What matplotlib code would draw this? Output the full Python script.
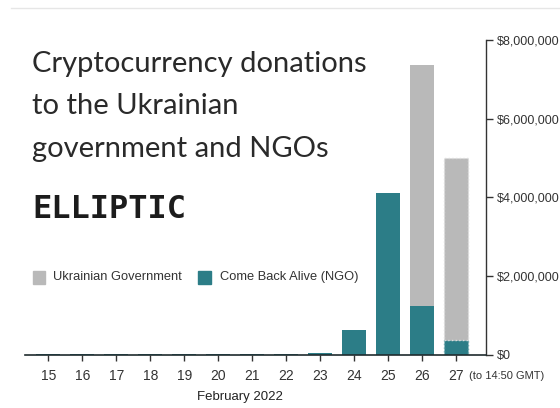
import numpy as np
import matplotlib.pyplot as plt
from matplotlib.patches import Rectangle

# 每日捐款（美元）
days = [15, 16, 17, 18, 19, 20, 21, 22, 23, 24, 25, 26, 27]
ngo = [20000, 20000, 20000, 20000, 20000, 20000, 20000, 20000, 50000, 630000, 4110000, 1240000, 380000]
gov = [0, 0, 0, 0, 0, 0, 0, 0, 0, 0, 0, 6120000, 4620000]
yticks = [0, 2000000, 4000000, 6000000, 8000000]
ytick_labels = ['$0', '$2,000,000', '$4,000,000', '$6,000,000', '$8,000,000']
title_lines = ['Cryptocurrency donations', 'to the Ukrainian', 'government and NGOs']

grey = '#b9b9b9'
teal = '#2c7d87'

plt.rcParams['font.family'] = ['Liberation Sans', 'DejaVu Sans']

fig = plt.figure(figsize=(5.6, 4.08), dpi=100)
ax = fig.add_axes([0.045, 0.13, 0.823, 0.772])

x = np.array(days)
last = len(days) - 1
for i in range(len(days)):
    ls = ':' if i == last else '-'
    ax.bar(x[i], ngo[i], width=0.7, color=teal,
           edgecolor='#6aa7ad' if i == last else 'none', linestyle=ls, linewidth=1)
    if gov[i] > 0:
        ax.bar(x[i], gov[i], bottom=ngo[i], width=0.7, color=grey,
               edgecolor='#dcdcdc' if i == last else 'none', linestyle=ls, linewidth=1)

ax.set_xlim(14.32, 27.88)
ax.set_ylim(0, 8000000)

for s in ['top', 'left']:
    ax.spines[s].set_visible(False)
ax.spines['bottom'].set_color('#1f2b2e')
ax.spines['bottom'].set_linewidth(1.2)
ax.spines['right'].set_color('#333333')
ax.spines['right'].set_linewidth(1.0)

ax.yaxis.tick_right()
ax.set_yticks(yticks)
ax.set_yticklabels(ytick_labels)
ax.tick_params(axis='y', direction='out', length=5, width=1, colors='#333333',
               labelsize=9, pad=3)
ax.set_xticks(days)
ax.set_xticklabels([str(d) for d in days])
ax.tick_params(axis='x', direction='out', length=4, width=1, colors='#333333',
               labelsize=10, pad=6)
ax.set_xlabel('February 2022', fontsize=9.5, color='#222222')
ax.xaxis.set_label_coords(0.466, -0.115)
ax.text(27.38, -0.052, '(to 14:50 GMT)', transform=ax.get_xaxis_transform(),
        fontsize=8, color='#333333', va='top')

# 标题
for yy, line in zip([0.8235, 0.7206, 0.6152], title_lines):
    fig.text(0.058, yy, line, fontsize=21, family='Lato', color='#2a2a2a',
             va='baseline', ha='left')
fig.text(0.058, 0.466, 'ELLIPTIC', fontsize=23, fontweight='bold',
         family='DejaVu Sans Mono', color='#1c1c1c', va='baseline', ha='left')

# 图例
fig.patches.append(Rectangle((0.059, 0.304), 0.022, 0.032, transform=fig.transFigure,
                             color=grey))
fig.text(0.095, 0.321, 'Ukrainian Government', fontsize=9.3, color='#333333', va='center')
fig.patches.append(Rectangle((0.354, 0.304), 0.022, 0.032, transform=fig.transFigure,
                             color=teal))
fig.text(0.393, 0.321, 'Come Back Alive (NGO)', fontsize=9.3, color='#333333', va='center')

fig.lines.append(plt.Line2D([0.02, 1.0], [0.98, 0.98], transform=fig.transFigure,
                            color='#e6e6e6', linewidth=1))

fig.savefig('out.png', dpi=100)
